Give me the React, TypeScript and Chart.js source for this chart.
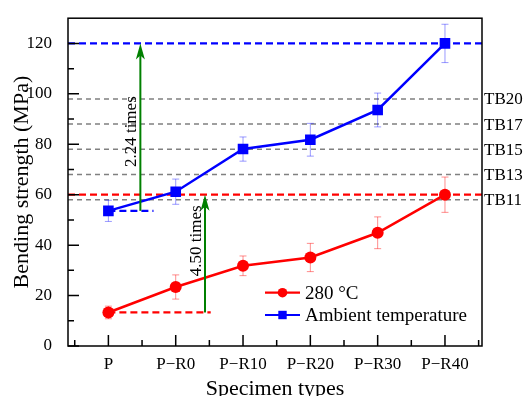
import React, { useEffect, useRef } from "react";
import { Chart, registerables } from "chart.js";

Chart.register(...registerables);

const categories = ["P", "P\u2212R0", "P\u2212R10", "P\u2212R20", "P\u2212R30", "P\u2212R40"];
const hotValues = [13.3, 23.4, 31.8, 35.1, 44.9, 60.0];
const hotErrors = [2.5, 4.8, 3.9, 5.6, 6.3, 7.0];
const ambientValues = [53.6, 61.2, 78.1, 81.8, 93.6, 120.0];
const ambientErrors = [4.2, 5.0, 4.8, 6.5, 6.7, 7.6];
const yTicks = [0, 20, 40, 60, 80, 100, 120];
const yMinorTicks = [10, 30, 50, 70, 90, 110];
const xMinorTicks = [-0.5, 0.5, 1.5, 2.5, 3.5, 4.5, 5.5];
const tbLevels = [58, 68, 78, 88, 98];
const tbLabels = ["TB11", "TB13", "TB15", "TB17", "TB20"];
// reference dashed levels: value, end x (null = full width), colour
const refLines = [
  { y: 120, xEnd: null as number | null, color: "#0000ff" },
  { y: 60, xEnd: null as number | null, color: "#ff0000" },
  { y: 53.6, xEnd: 0.67, color: "#0000ff" },
  { y: 13.3, xEnd: 1.52, color: "#ff0000" },
];
const ratioArrows = [
  { x: 0.475, from: 53.6, to: 120, label: "2.24 times", labelY: 85 },
  { x: 1.435, from: 13.3, to: 60, label: "4.50 times", labelY: 41.7 },
];

const FONT = "'Liberation Serif', 'Times New Roman', serif";

const overlay = {
  id: "overlay",
  beforeDatasetsDraw(chart: any) {
    const { ctx, chartArea: a, scales } = chart;
    const x = scales.x, y = scales.y;
    ctx.save();
    // TB gray lines
    ctx.setLineDash([5, 4]);
    ctx.lineWidth = 1.5;
    ctx.strokeStyle = "#808080";
    tbLevels.forEach((v) => {
      const py = y.getPixelForValue(v);
      ctx.beginPath();
      ctx.moveTo(a.left, py);
      ctx.lineTo(a.right, py);
      ctx.stroke();
    });
    // reference dashed
    ctx.setLineDash([7, 4]);
    ctx.lineWidth = 2.2;
    refLines.forEach((r) => {
      const py = y.getPixelForValue(r.y);
      const x0 = r.xEnd === null ? a.left : x.getPixelForValue(0);
      const x1 = r.xEnd === null ? a.right : x.getPixelForValue(r.xEnd);
      ctx.strokeStyle = r.color;
      ctx.beginPath();
      ctx.moveTo(x0, py);
      ctx.lineTo(x1, py);
      ctx.stroke();
    });
    ctx.setLineDash([]);
    // error bars
    const drawErr = (vals: number[], errs: number[], color: string) => {
      ctx.strokeStyle = color;
      ctx.lineWidth = 1;
      vals.forEach((v, i) => {
        const px = x.getPixelForValue(i);
        const pt = y.getPixelForValue(v + errs[i]);
        const pb = y.getPixelForValue(v - errs[i]);
        ctx.beginPath();
        ctx.moveTo(px, pt);
        ctx.lineTo(px, pb);
        ctx.moveTo(px - 3.5, pt);
        ctx.lineTo(px + 3.5, pt);
        ctx.moveTo(px - 3.5, pb);
        ctx.lineTo(px + 3.5, pb);
        ctx.stroke();
      });
    };
    drawErr(hotValues, hotErrors, "rgba(255,0,0,0.45)");
    drawErr(ambientValues, ambientErrors, "rgba(0,0,255,0.4)");
    ctx.restore();
  },
  afterDatasetsDraw(chart: any) {
    const { ctx, chartArea: a, scales } = chart;
    const x = scales.x, y = scales.y;
    ctx.save();
    // arrows
    ctx.strokeStyle = "#008000";
    ctx.fillStyle = "#008000";
    ctx.lineWidth = 2;
    ratioArrows.forEach((ar) => {
      const px = x.getPixelForValue(ar.x);
      const p0 = y.getPixelForValue(ar.from);
      const p1 = y.getPixelForValue(ar.to);
      ctx.beginPath();
      ctx.moveTo(px, p0);
      ctx.lineTo(px, p1 + 8);
      ctx.stroke();
      ctx.beginPath();
      ctx.moveTo(px, p1);
      ctx.lineTo(px - 4.5, p1 + 16);
      ctx.lineTo(px, p1 + 12);
      ctx.lineTo(px + 4.5, p1 + 16);
      ctx.closePath();
      ctx.fill();
      ctx.save();
      ctx.translate(px - 4, y.getPixelForValue(ar.labelY));
      ctx.rotate(-Math.PI / 2);
      ctx.fillStyle = "#000";
      ctx.font = `17px ${FONT}`;
      ctx.textAlign = "center";
      ctx.textBaseline = "alphabetic";
      ctx.fillText(ar.label, 0, 0);
      ctx.restore();
    });
    // TB labels
    ctx.fillStyle = "#000";
    ctx.font = `17px ${FONT}`;
    ctx.textAlign = "left";
    ctx.textBaseline = "middle";
    tbLevels.forEach((v, i) => {
      ctx.fillText(tbLabels[i], a.right + 2, y.getPixelForValue(v) + 1);
    });
    // frame
    ctx.strokeStyle = "#000";
    ctx.lineWidth = 1.5;
    ctx.strokeRect(a.left, a.top, a.right - a.left, a.bottom - a.top);
    // ticks inside
    ctx.lineWidth = 1.5;
    ctx.beginPath();
    yTicks.forEach((v) => {
      const py = y.getPixelForValue(v);
      ctx.moveTo(a.left, py);
      ctx.lineTo(a.left + 11, py);
    });
    yMinorTicks.forEach((v) => {
      const py = y.getPixelForValue(v);
      ctx.moveTo(a.left, py);
      ctx.lineTo(a.left + 6, py);
    });
    categories.forEach((_, i) => {
      const px = x.getPixelForValue(i);
      ctx.moveTo(px, a.bottom);
      ctx.lineTo(px, a.bottom - 11);
    });
    xMinorTicks.forEach((v) => {
      const px = x.getPixelForValue(v);
      ctx.moveTo(px, a.bottom);
      ctx.lineTo(px, a.bottom - 6);
    });
    ctx.stroke();
    // axis titles
    ctx.font = `22px ${FONT}`;
    ctx.textAlign = "center";
    ctx.textBaseline = "alphabetic";
    ctx.fillText("Specimen types", (a.left + a.right) / 2, 395);
    ctx.save();
    ctx.translate(28, (a.top + a.bottom) / 2);
    ctx.rotate(-Math.PI / 2);
    ctx.fillText("Bending strength (MPa)", 0, 0);
    ctx.restore();
    // legend
    const items = chart.data.datasets.map((d: any) => ({
      label: d.label,
      color: d.borderColor,
      style: d.pointStyle,
    }));
    const lx0 = 265, lx1 = 300, ly = [292.7, 315];
    items.forEach((it: any, i: number) => {
      const py = ly[i];
      ctx.strokeStyle = it.color;
      ctx.fillStyle = it.color;
      ctx.lineWidth = 2.2;
      ctx.beginPath();
      ctx.moveTo(lx0, py);
      ctx.lineTo(lx1, py);
      ctx.stroke();
      const mx = (lx0 + lx1) / 2;
      if (it.style === "circle") {
        ctx.beginPath();
        ctx.arc(mx, py, 4.8, 0, Math.PI * 2);
        ctx.fill();
      } else {
        ctx.fillRect(mx - 4.2, py - 4.2, 8.4, 8.4);
      }
      ctx.fillStyle = "#000";
      ctx.font = `19px ${FONT}`;
      ctx.textAlign = "left";
      ctx.textBaseline = "middle";
      ctx.fillText(it.label, lx1 + 5, py + 1);
    });
    ctx.restore();
  },
};

export default function App() {
  const ref = useRef<HTMLCanvasElement>(null);
  useEffect(() => {
    if (!ref.current) return;
    Chart.defaults.font.family = FONT;
    const chart = new Chart(ref.current, {
      type: "line",
      data: {
        datasets: [
          {
            label: "280 \u00B0C",
            data: hotValues.map((v, i) => ({ x: i, y: v })),
            borderColor: "#ff0000",
            backgroundColor: "#ff0000",
            borderWidth: 2.5,
            pointStyle: "circle",
            pointRadius: 6,
            pointBorderWidth: 0,
            tension: 0,
          },
          {
            label: "Ambient temperature",
            data: ambientValues.map((v, i) => ({ x: i, y: v })),
            borderColor: "#0000ff",
            backgroundColor: "#0000ff",
            borderWidth: 2.5,
            pointStyle: "rect",
            pointRadius: 7.5,
            pointBorderWidth: 0,
            tension: 0,
          },
        ],
      },
      options: {
        responsive: false,
        animation: false,
        layout: { padding: { left: 0, right: 42, top: 15, bottom: 0 } },
        plugins: { legend: { display: false }, tooltip: { enabled: false } },
        scales: {
          x: {
            type: "linear",
            min: -0.6,
            max: 5.55,
            grid: { display: false },
            border: { display: false },
            afterBuildTicks: (s: any) => {
              s.ticks = categories.map((_, i) => ({ value: i }));
            },
            afterFit: (s: any) => {
              s.height = 50;
            },
            ticks: {
              autoSkip: false,
              maxRotation: 0,
              padding: 0,
              color: "#000",
              font: { size: 17, family: FONT },
              callback: (v: any) => categories[Math.round(Number(v))] ?? "",
            },
          },
          y: {
            type: "linear",
            min: 0,
            max: 130,
            grid: { display: false },
            border: { display: false },
            afterBuildTicks: (s: any) => {
              s.ticks = yTicks.map((v) => ({ value: v }));
            },
            afterFit: (s: any) => {
              s.width = 68;
            },
            ticks: {
              padding: 8,
              color: "#000",
              font: { size: 17, family: FONT },
            },
          },
        },
      },
      plugins: [overlay],
    });
    return () => chart.destroy();
  }, []);
  return (
    <div style={{ position: "absolute", left: 0, top: 0, width: 524, height: 396 }}>
      <canvas ref={ref} width={524} height={396} style={{ display: "block" }} />
    </div>
  );
}
